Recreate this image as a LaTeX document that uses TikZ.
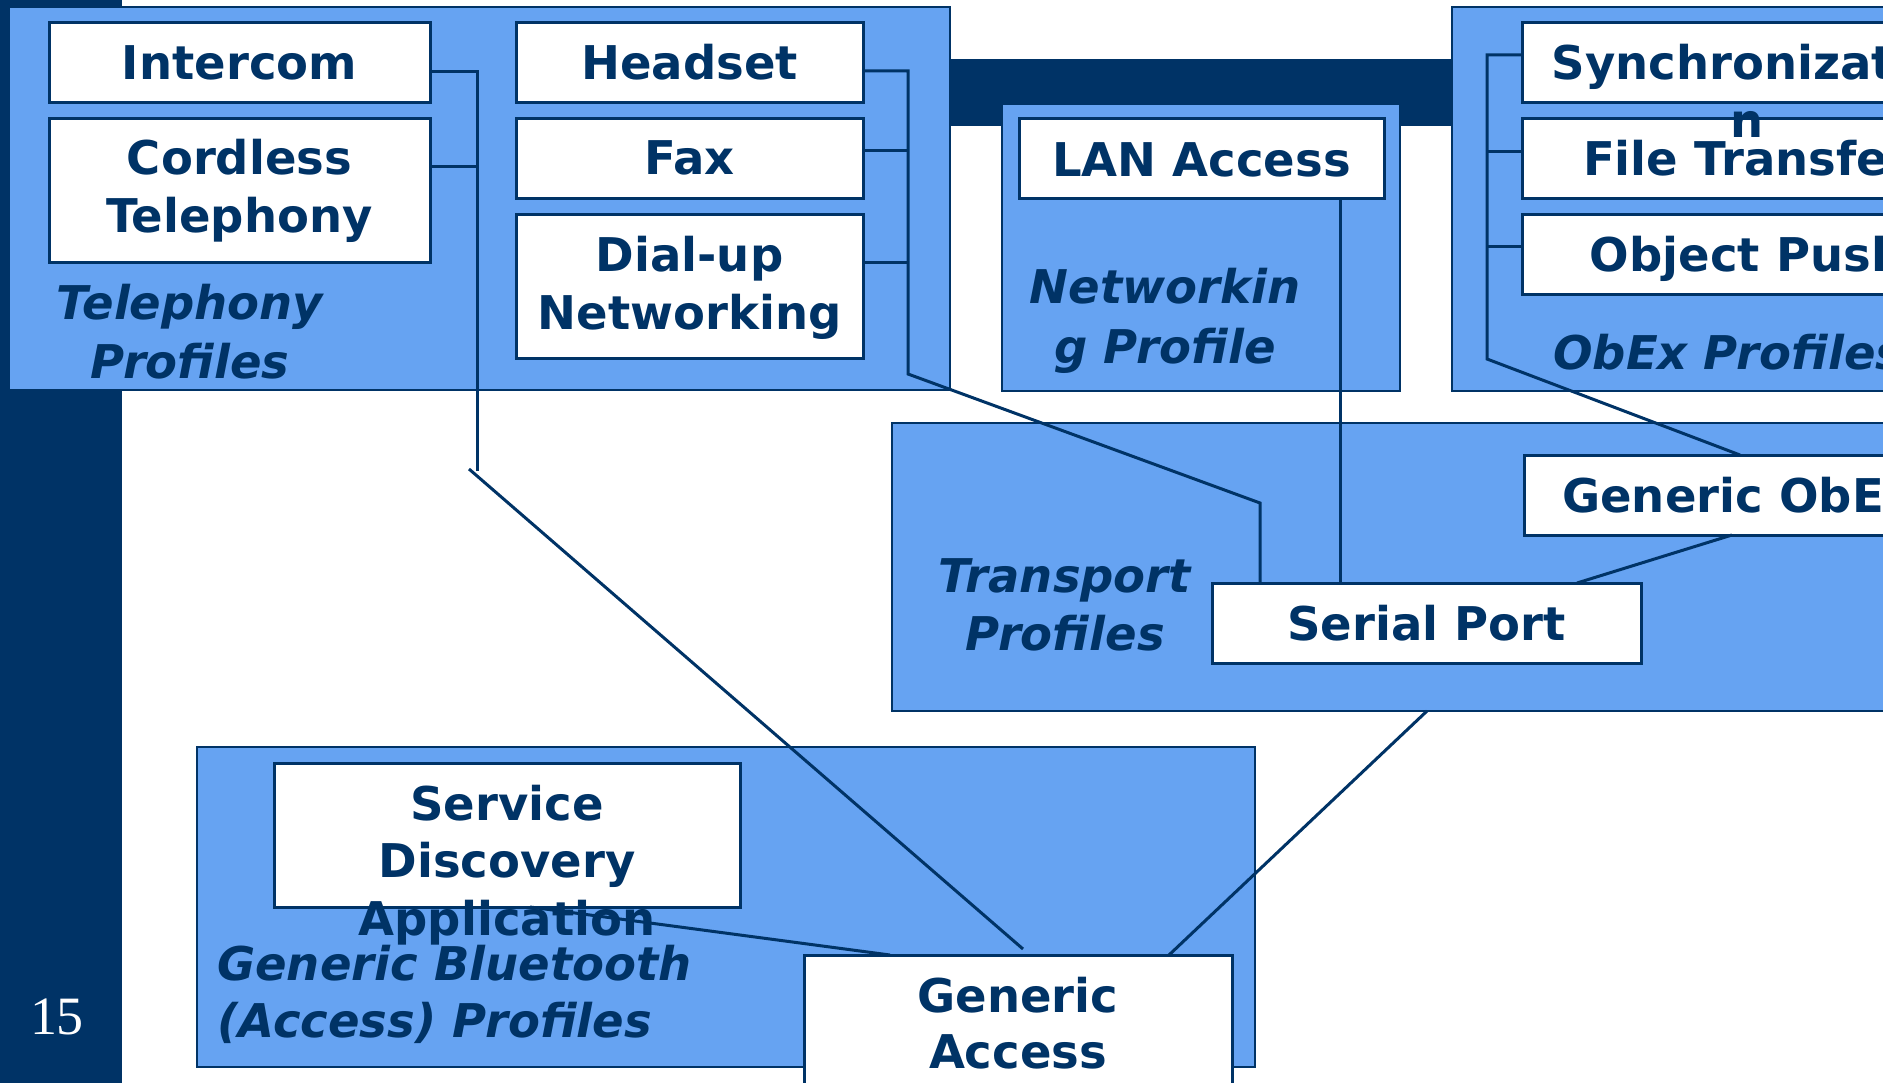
\documentclass[tikz,border=0pt]{standalone}
\usepackage{fontspec}
\setmainfont{DejaVu Sans}
\newfontfamily\numfont{Liberation Serif}
\usetikzlibrary{calc}
\definecolor{navy}{RGB}{0,51,102}
\definecolor{pblue}{RGB}{102,163,242}
\begin{document}
\begin{tikzpicture}[x=1pt,y=-1pt,
  grp/.style={draw=navy,line width=2.5pt,fill=pblue,anchor=north west,inner sep=0pt,outer sep=0pt},
  wbox/.style={draw=navy,line width=3pt,fill=white,anchor=north west,inner sep=0pt,outer sep=0pt},
  bt/.style={anchor=base,inner sep=0pt,text=navy,font=\fontsize{46.5}{58}\selectfont\bfseries},
  lt/.style={anchor=base,inner sep=0pt,text=navy,font=\fontsize{46.5}{58}\selectfont\bfseries\itshape},
  conn/.style={draw=navy,line width=3pt}]
\useasboundingbox (0,0) rectangle (1883,1083);
\clip (0,0) rectangle (1883,1083);
% slide template bars
\fill[navy] (0,0) rectangle (122,1083);
\fill[navy] (122,59) rectangle (1883,126);
% group boxes (top row)
\node[grp,minimum width=941pt,minimum height=383pt] (telGrp) at (9,7) {};
\node[grp,minimum width=398pt,minimum height=287pt] (netGrp) at (1002,104) {};
\node[grp,minimum width=600pt,minimum height=384pt] (obexGrp) at (1452,7) {};
% white boxes (top row)
\node[wbox,minimum width=381pt,minimum height=80pt] (intercom) at (49,23) {};
\node[wbox,minimum width=381pt,minimum height=144pt] (cordless) at (49,119) {};
\node[wbox,minimum width=347pt,minimum height=80pt] (headset) at (516,23) {};
\node[wbox,minimum width=347pt,minimum height=80pt] (fax) at (516,119) {};
\node[wbox,minimum width=347pt,minimum height=144pt] (dialup) at (516,215) {};
\node[wbox,minimum width=365pt,minimum height=80pt] (lan) at (1019,119) {};
\node[wbox,minimum width=450pt,minimum height=80pt] (sync) at (1522,23) {};
\node[wbox,minimum width=450pt,minimum height=80pt] (ftp) at (1522,119) {};
\node[wbox,minimum width=450pt,minimum height=80pt] (opush) at (1522,215) {};
% transport
\node[grp,minimum width=1100pt,minimum height=288pt] (trGrp) at (892,423) {};
\node[wbox,minimum width=428pt,minimum height=80pt] (gobex) at (1524,455) {};
\node[wbox,minimum width=429pt,minimum height=80pt] (serial) at (1212,583) {};
% generic bluetooth
\node[grp,minimum width=1058pt,minimum height=320pt] (gbGrp) at (197,747) {};
\node[wbox,minimum width=466pt,minimum height=144pt] (sda) at (274,763) {};
% texts
\node[bt] (tInter) at (239.5,80) {Intercom};
\node[bt] (tCord1) at (239.5,175) {Cordless};
\node[bt] (tCord2) at (239.5,233) {Telephony};
\node[bt] (tHead) at (689.5,80) {Headset};
\node[bt] (tFax) at (689.5,175) {Fax};
\node[bt] (tDial1) at (689.5,272) {Dial-up};
\node[bt] (tDial2) at (689.5,330) {Networking};
\node[lt] (tTel1) at (190,320) {Telephony};
\node[lt] (tTel2) at (190,378) {Profiles};
\node[bt] (tLan) at (1201.5,177) {LAN Access};
\node[lt] (tNet1) at (1165,304) {Networkin};
\node[lt] (tNet2) at (1165,363) {g Profile};
\node[bt] (tSync1) at (1747,80) {Synchronizatio};
\node[bt] (tSync2) at (1747,138) {n};
\node[bt] (tFtp) at (1747,176) {File Transfer};
\node[bt] (tPush) at (1747,272) {Object Push};
\node[lt,anchor=base west] (tObex) at (1553,370) {ObEx Profiles};
\node[lt] (tTr1) at (1065,592) {Transport};
\node[lt] (tTr2) at (1065,650) {Profiles};
\node[bt] (tSer) at (1426.5,640) {Serial Port};
\node[bt] (tGob) at (1738,512) {Generic ObEx};
\node[bt] (tSda1) at (507,820) {Service};
\node[bt] (tSda2) at (507,877) {Discovery};
\node[bt] (tSda3) at (507,935) {Application};
\node[lt,anchor=base west] (tGb1) at (217,980) {Generic Bluetooth};
\node[lt,anchor=base west] (tGb2) at (217,1037) {(Access) Profiles};
% generic access
\node[wbox,minimum width=428pt,minimum height=200pt] (gacc) at (804,955) {};
\node[bt] (tGa1) at (1018,1012) {Generic};
\node[bt] (tGa2) at (1018,1068) {Access};
% page number
\node[anchor=base,inner sep=0pt,text=white,font=\numfont\fontsize{54}{60}\selectfont] (pnum) at (57,1034) {15};
% junction coordinates
\coordinate (jI) at (477,72);
\coordinate (jC) at (477,167);
\coordinate (jIb) at (477,471);
\coordinate (dA) at (469,469);
\coordinate (dAe) at (1023,949);
\coordinate (jH) at (908,71);
\coordinate (jF) at (908,151);
\coordinate (jD) at (908,263);
\coordinate (jDb) at (908,374);
\coordinate (jS) at (1260,503);
\coordinate (jL) at (1340,300);
\coordinate (jO1) at (1487,55);
\coordinate (jO2) at (1487,152);
\coordinate (jO3) at (1487,247);
\coordinate (jOb) at (1487,359);
\coordinate (jOe) at (1740,455);
\coordinate (jG1) at (1732,535);
\coordinate (jG2) at (1577,583);
\coordinate (jT1) at (1427,714);
\coordinate (jT2) at (1169,955);
\coordinate (jA1) at (530,907);
\coordinate (jA2) at (890,955);
% connectors
\draw[conn] (intercom.east |- jI) -- (jI) -- (jIb);
\draw[conn] (cordless.east |- jC) -- (jC);
\draw[conn] (dA) -- (dAe);
\draw[conn] (headset.east |- jH) -- (jH) -- (jDb) -- (jS) -- (serial.north -| jS);
\draw[conn] (fax.east |- jF) -- (jF);
\draw[conn] (dialup.east |- jD) -- (jD);
\draw[conn] (lan.south -| jL) -- (serial.north -| jL);
\draw[conn] (sync.west |- jO1) -- (jO1) -- (jOb) -- (gobex.north -| jOe);
\draw[conn] (ftp.west |- jO2) -- (jO2);
\draw[conn] (opush.west |- jO3) -- (jO3);
\draw[conn] (gobex.south -| jG1) -- (serial.north -| jG2);
\draw[conn] (trGrp.south -| jT1) -- (gacc.north -| jT2);
\draw[conn] (sda.south -| jA1) -- (gacc.north -| jA2);
\end{tikzpicture}
\end{document}
